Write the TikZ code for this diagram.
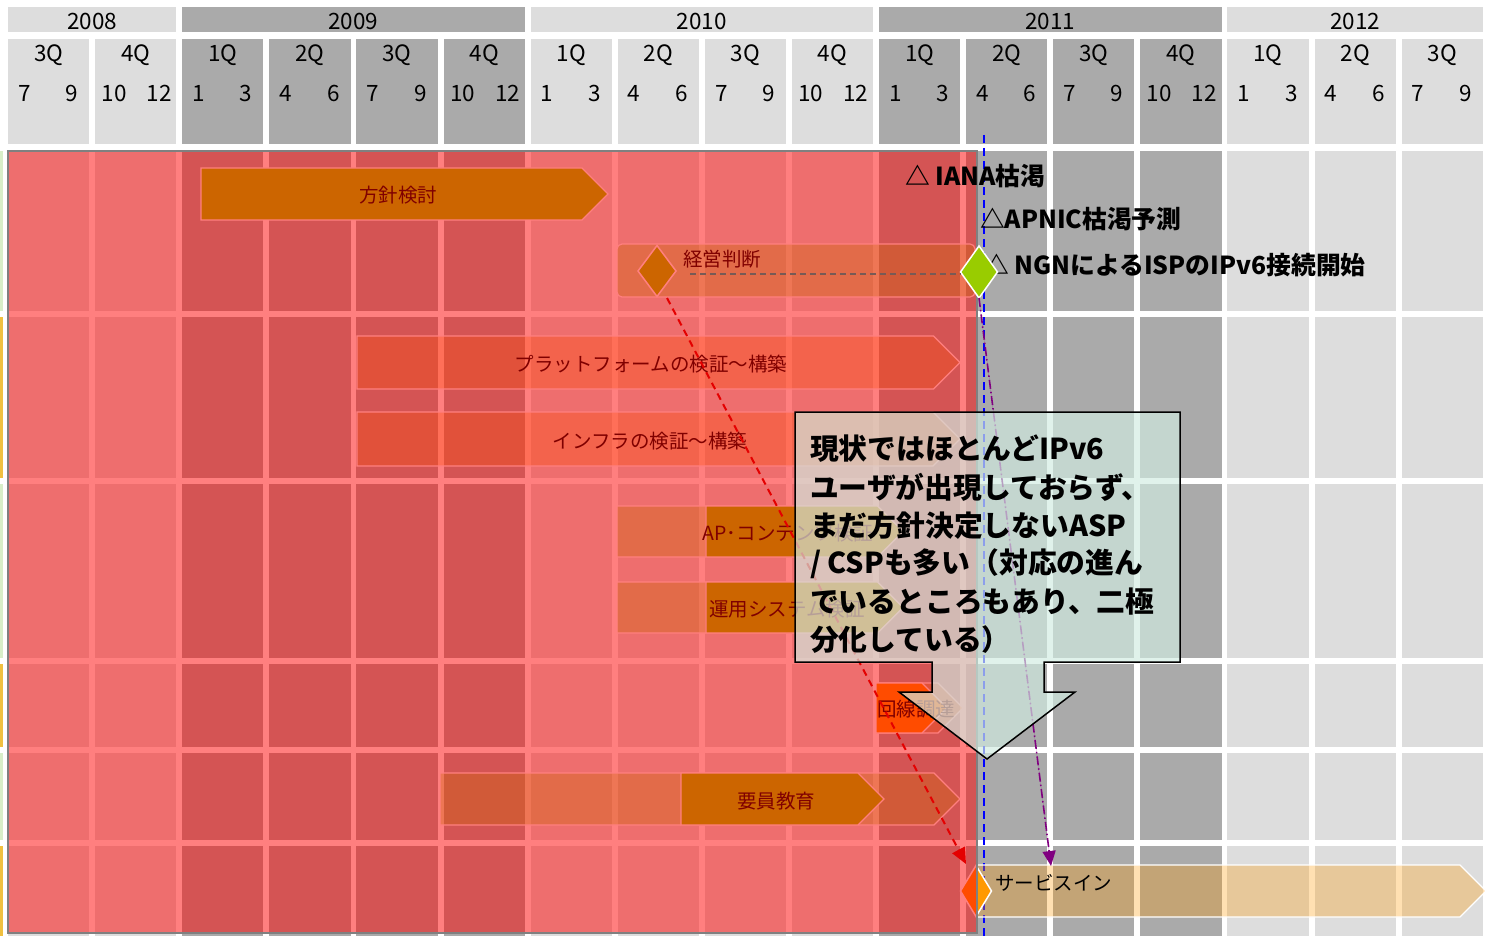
\documentclass[tikz,border=0pt]{standalone}
\usepackage{fontspec}
\setmainfont{Noto Sans CJK JP}
\usetikzlibrary{arrows.meta,shapes.geometric}
\definecolor{lgray}{HTML}{DDDDDD}
\definecolor{dgray}{HTML}{AAAAAA}
\definecolor{ngreen}{HTML}{99CC00}
\definecolor{norange}{HTML}{FF9900}
\definecolor{calfill}{RGB}{210,236,226}
\definecolor{dashgray}{RGB}{120,90,85}
\definecolor{mpurple}{RGB}{128,0,128}
\definecolor{arrred}{RGB}{228,0,0}
\definecolor{stripy}{HTML}{F0C040}
\definecolor{stripg}{HTML}{D8EEC8}
\newcommand\mychev[5]{\path[#1] (#2,#3) -- ({#4-(#5-#3)/2},#3) -- (#4,{(#3+#5)/2}) -- ({#4-(#5-#3)/2},#5) -- (#2,#5) -- cycle;}
\begin{document}
\begin{tikzpicture}[x=1pt,y=-1pt,
  every node/.style={inner sep=0pt,outer sep=0pt},
  hdr/.style={font=\fontsize{22.5}{24}\selectfont},
  barlbl/.style={font=\fontsize{19.5}{22}\selectfont},
  mstone/.style={font=\bfseries\fontsize{24.8}{26}\selectfont, anchor=west},
  callt/.style={font=\bfseries\fontsize{28.8}{32}\selectfont, anchor=west},
  solidbar/.style={fill=ngreen, draw=white, line width=1.2pt},
  solidorg/.style={fill=norange, draw=white, line width=1.2pt},
  plangreen/.style={fill=ngreen, fill opacity=0.33, draw=white, line width=1.2pt},
  planorange/.style={fill=norange, fill opacity=0.3, draw=white, line width=1.2pt},
  redveil/.style={fill=red, fill opacity=0.5, draw=gray, line width=1.5pt},
  callbox/.style={fill=calfill, fill opacity=0.67, draw=black, line width=1.5pt, line join=miter},
  mdiam/.style={diamond, line width=1.5pt, draw=white},
  redarrow/.style={draw=arrred, line width=2pt, dash pattern=on 7pt off 5pt, -{Triangle[length=16pt,width=14pt]}},
  purparrow/.style={draw=mpurple, fill=mpurple, line width=1.6pt, dash pattern=on 9pt off 3pt on 1.5pt off 3pt, -{Triangle[length=15pt,width=13pt]}},
  bluedash/.style={draw=blue, line width=2pt, dash pattern=on 8pt off 5pt}
]
\useasboundingbox (0,0) rectangle (1488,936);
\fill[white] (0,0) rectangle (1488,936);
% left strips
\fill[stripg] (0,151) rectangle (2.5,311);
\fill[stripy] (0,317) rectangle (2.5,478);
\fill[stripg] (0,484) rectangle (2.5,658);
\fill[stripy] (0,664) rectangle (2.5,747);
\fill[stripg] (0,753) rectangle (2.5,840);
\fill[stripy] (0,846) rectangle (2.5,936);
% years
\foreach \a/\b/\t/\c in {0/1/2008/lgray,2/5/2009/dgray,6/9/2010/lgray,10/13/2011/dgray,14/16/2012/lgray}{
  \fill[\c] ({8+87.1*\a},7) rectangle ({8+87.1*\b+81.2},32);
  \node[hdr] (y\t) at ({8+87.1*(\a+\b)/2+40.6},21) {\t};
}
% quarter columns
\foreach \i in {0,...,16}{
  \pgfmathsetmacro\xa{8+87.1*\i}
  \pgfmathtruncatemacro\q{mod(\i+2,4)+1}
  \pgfmathtruncatemacro\dk{(\i>1)*(\i<6)+(\i>9)*(\i<14)}
  \pgfmathtruncatemacro\ma{3*\q-2}
  \pgfmathtruncatemacro\mb{3*\q}
  \ifnum\dk=1 \def\cc{dgray}\else\def\cc{lgray}\fi
  \fill[\cc] (\xa,39) rectangle (\xa+81.2,144);
  \foreach \ya/\yb in {151/311,317/478,484/658,664/747,753/840,846/936}
    \fill[\cc] (\xa,\ya) rectangle (\xa+81.2,\yb);
  \node[hdr] (q\i) at (\xa+40.6,55) {\q Q};
  \pgfmathsetmacro\mx{\xa+(\ma>9?19:16.5)}
  \node[hdr] (ma\i) at (\mx,93) {\ma};
  \node[hdr] (mb\i) at (\xa+64,93) {\mb};
}
% blue time line
\coordinate (vtop) at (984,135);
\coordinate (vbot) at (984,936);
\draw[bluedash] (vtop) -- (vbot);
% bars
\mychev{solidbar}{201}{168}{608}{220}
\node[barlbl] (t1) at (398,195) {方針検討};
\path[plangreen, rounded corners=5pt] (617,244) rectangle (975,297);
\node[barlbl, anchor=west] (t2) at (683,259) {経営判断};
\node[mdiam, draw=white, fill=ngreen, minimum width=38pt, minimum height=51pt] (dk) at (657,271) {};
\mychev{planorange}{357}{336}{960}{389}
\node[barlbl] (t3) at (651,364) {プラットフォームの検証～構築};
\mychev{planorange}{357}{412}{960}{466}
\node[barlbl] (t4) at (650,441) {インフラの検証～構築};
\mychev{plangreen}{617}{506}{903}{557}
\mychev{solidbar}{706}{506}{903}{557}
\node[barlbl] (t5) at (788,533) {AP･コンテンツ検証};
\mychev{plangreen}{617}{582}{903}{633}
\mychev{solidbar}{706}{582}{903}{633}
\node[barlbl] (t6) at (787,609) {運用システム検証};
\mychev{planorange}{876}{683}{963}{733}
\mychev{solidorg}{876}{683}{947}{733}
\node[barlbl] (t7) at (916,709) {回線調達};
\mychev{plangreen}{440}{773}{960}{825}
\mychev{solidbar}{681}{773}{884}{825}
\node[barlbl] (t8) at (776,801) {要員教育};
\mychev{planorange}{977}{865}{1486}{917}
\node[mdiam, fill=norange, minimum width=31pt, minimum height=51pt] (svc) at (976,891) {};
\node[barlbl, anchor=west] (t9) at (995,883) {サービスイン};
% red veil over the past
\path[redveil] (8,151) rectangle (977,933);
% milestones
\node[mstone] (m1) at (905,176) {△ IANA枯渇};
\node[mstone] (m2) at (980,219) {△APNIC枯渇予測};
\node[mstone] (m3) at (984,265) {△ NGNによるISPのIPv6接続開始};
\node[mdiam, fill=ngreen, minimum width=37pt, minimum height=52pt] (ngn) at (979,272) {};
% connectors
\coordinate (kd) at (690,274);
\coordinate (kdend) at (961,274);
\draw[dashgray, line width=1.5pt, dash pattern=on 6pt off 4pt] (kd) -- (kdend);
\coordinate (kstart) at (667,298);
\coordinate (kend) at (966,864);
\draw[redarrow] (kstart) -- (kend);
\coordinate (pend) at (1051,866);
\draw[purparrow] (ngn.south) -- (pend);
% callout
\path[callbox] (795,412) -- (1180,412) -- (1180,662) -- (1044,662) -- (1044,692) -- (1075,692) -- (987,759) -- (899,692) -- (932,692) -- (932,662) -- (795,662) -- cycle;
\node[callt] (c1) at (810,449) {現状ではほとんどIPv6};
\node[callt] (c2) at (810,487) {ユーザが出現しておらず、};
\node[callt] (c3) at (810,526) {まだ方針決定しないASP};
\node[callt] (c4) at (810,564) {/ CSPも多い（対応の進ん};
\node[callt] (c5) at (810,602) {でいるところもあり、二極};
\node[callt] (c6) at (810,640) {分化している）};
\end{tikzpicture}
\end{document}
